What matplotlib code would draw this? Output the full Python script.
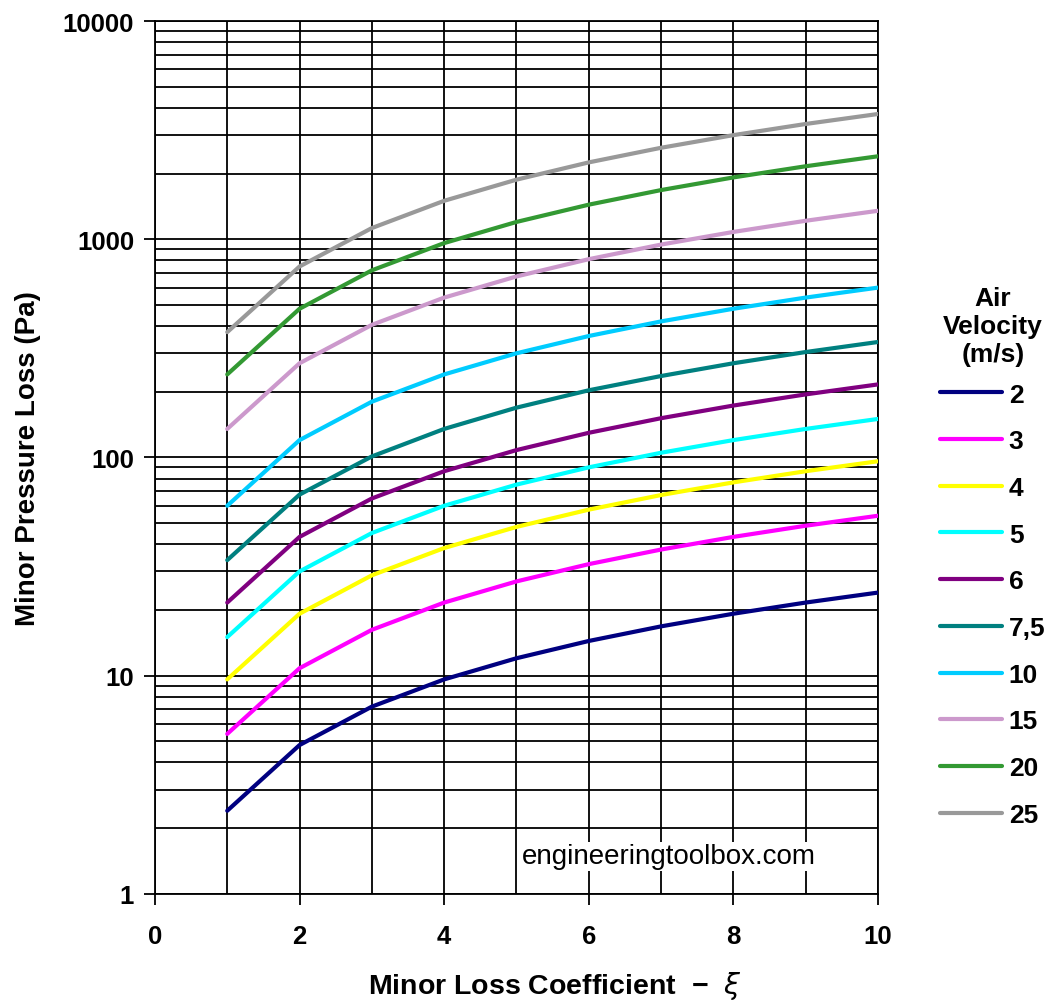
import matplotlib
matplotlib.use("Agg")
import matplotlib.pyplot as plt
from matplotlib.ticker import FixedLocator, LogLocator, NullFormatter

plt.rcParams['font.family'] = ['Liberation Sans', 'DejaVu Sans']

xi = [1, 2, 3, 4, 5, 6, 7, 8, 9, 10]
velocity_labels = ["2", "3", "4", "5", "6", "7,5", "10", "15", "20", "25"]
loss_v2 = [2.4, 4.8, 7.2, 9.6, 12, 14.4, 16.8, 19.2, 21.6, 24]
loss_v3 = [5.4, 10.8, 16.2, 21.6, 27, 32.4, 37.8, 43.2, 48.6, 54]
loss_v4 = [9.6, 19.2, 28.8, 38.4, 48, 57.6, 67.2, 76.8, 86.4, 96]
loss_v5 = [15, 30, 45, 60, 75, 90, 105, 120, 135, 150]
loss_v6 = [21.6, 43.2, 64.8, 86.4, 108, 129.6, 151.2, 172.8, 194.4, 216]
loss_v75 = [33.8, 67.5, 101, 135, 169, 203, 236, 270, 304, 338]
loss_v10 = [60, 120, 180, 240, 300, 360, 420, 480, 540, 600]
loss_v15 = [135, 270, 405, 540, 675, 810, 945, 1080, 1215, 1350]
loss_v20 = [240, 480, 720, 960, 1200, 1440, 1680, 1920, 2160, 2400]
loss_v25 = [375, 750, 1125, 1500, 1875, 2250, 2625, 3000, 3375, 3750]
series = [loss_v2, loss_v3, loss_v4, loss_v5, loss_v6, loss_v75,
          loss_v10, loss_v15, loss_v20, loss_v25]
colors = ["#000080", "#FF00FF", "#FFFF00", "#00FFFF", "#800080", "#008080",
          "#00CCFF", "#CC99CC", "#339933", "#999999"]

fig = plt.figure(figsize=(10.54, 10.03), dpi=100)
ax = fig.add_axes([0.147, 0.108, 0.686, 0.870])

for vals, c, lab in zip(series, colors, velocity_labels):
    ax.plot(xi, vals, color=c, lw=3, label=lab, solid_capstyle='round', zorder=3)

ax.set_yscale('log')
ax.set_xlim(0, 10)
ax.set_ylim(1, 10000)

ax.xaxis.set_major_locator(FixedLocator([0, 2, 4, 6, 8, 10]))
ax.xaxis.set_minor_locator(FixedLocator([1, 3, 5, 7, 9]))
ax.yaxis.set_minor_locator(LogLocator(base=10, subs=range(2, 10), numticks=20))
ax.yaxis.set_minor_formatter(NullFormatter())
ax.set_yticks([1, 10, 100, 1000, 10000])
ax.set_yticklabels(["1", "10", "100", "1000", "10000"])

ax.grid(True, which='both', color='black', lw=1.3)
ax.set_axisbelow(True)
ax.tick_params(which='major', direction='out', length=8, width=1.3, color='black',
               labelsize=18.5)
ax.tick_params(axis='y', which='major', pad=7)
ax.tick_params(axis='x', which='major', pad=14)
ax.tick_params(which='minor', length=0)
for lbl in ax.get_xticklabels() + ax.get_yticklabels():
    lbl.set_fontweight('bold')
for s in ax.spines.values():
    s.set_color('black')
    s.set_linewidth(1.3)

ax.set_xlabel("Minor Loss Coefficient  \u2212  $\\xi$", fontsize=20.5, fontweight='bold')
ax.xaxis.set_label_coords(0.553, -0.086)
ax.set_ylabel("Minor Pressure Loss (Pa)", fontsize=20, fontweight='bold', labelpad=16)

ax.text(0.507, 0.043, "engineeringtoolbox.com", transform=ax.transAxes, fontsize=20,
        ha='left', va='center', zorder=4,
        bbox=dict(facecolor='white', edgecolor='none', pad=1))

leg = ax.legend(loc='upper left', bbox_to_anchor=(1.086, 0.696), frameon=False,
                title="Air\nVelocity\n(m/s)", handlelength=2.35, handletextpad=0.25,
                labelspacing=0.86, borderpad=0, borderaxespad=0,
                prop={'weight': 'bold', 'size': 19},
                title_fontproperties={'weight': 'bold', 'size': 19})
leg._legend_box.align = 'center'
leg._legend_box.sep = 12
leg.get_title().set_multialignment('center')
leg.get_title().set_linespacing(1.2)

fig.savefig("out.png", dpi=100)
